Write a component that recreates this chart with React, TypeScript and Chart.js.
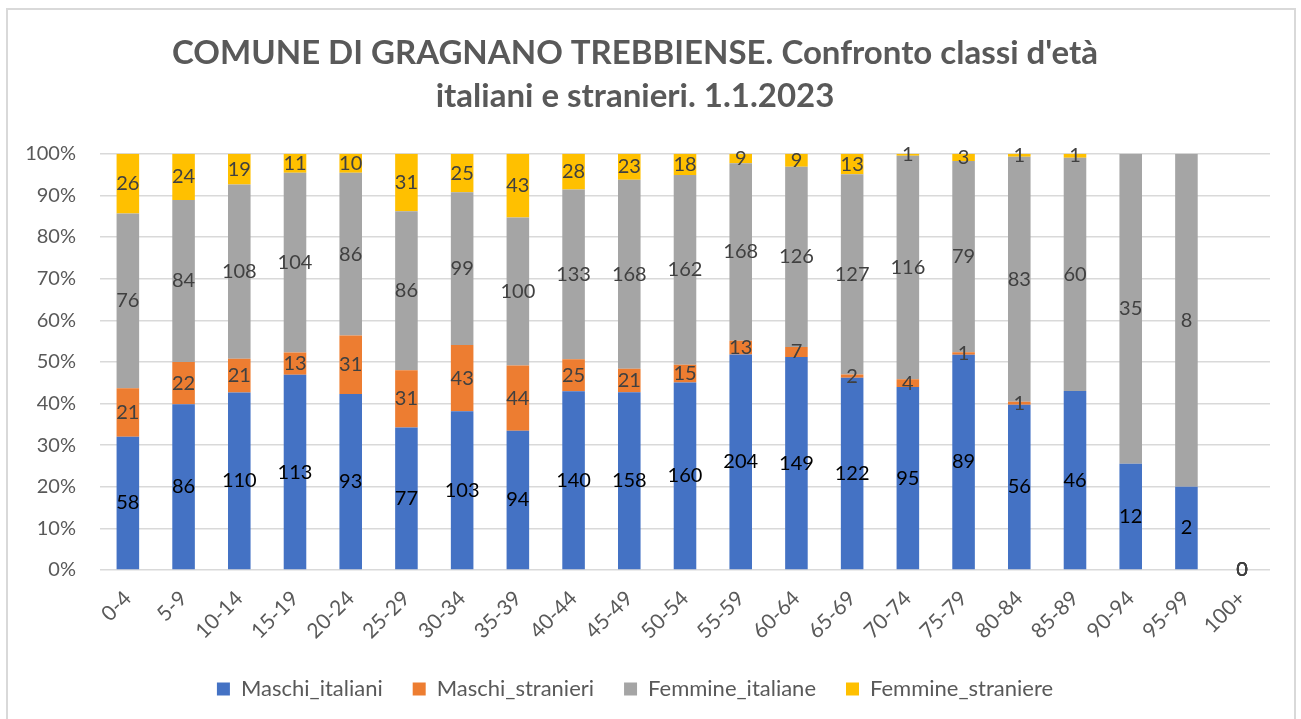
import React, { useEffect, useRef } from 'react';
import { Chart, registerables } from 'chart.js';

Chart.register(...registerables);

const categories = ['0-4', '5-9', '10-14', '15-19', '20-24', '25-29', '30-34', '35-39', '40-44', '45-49', '50-54', '55-59', '60-64', '65-69', '70-74', '75-79', '80-84', '85-89', '90-94', '95-99', '100+'];
const maschiItaliani = [58, 86, 110, 113, 93, 77, 103, 94, 140, 158, 160, 204, 149, 122, 95, 89, 56, 46, 12, 2, 0];
const maschiStranieri = [21, 22, 21, 13, 31, 31, 43, 44, 25, 21, 15, 13, 7, 2, 4, 1, 1, 0, 0, 0, 0];
const femmineItaliane = [76, 84, 108, 104, 86, 86, 99, 100, 133, 168, 162, 168, 126, 127, 116, 79, 83, 60, 35, 8, 0];
const femmineStraniere = [26, 24, 19, 11, 10, 31, 25, 43, 28, 23, 18, 9, 9, 13, 1, 3, 1, 1, 0, 0, 0];
const seriesNames = ['Maschi_italiani', 'Maschi_stranieri', 'Femmine_italiane', 'Femmine_straniere'];
const seriesColors = ['#4472C4', '#ED7D31', '#A5A5A5', '#FFC000'];
const labelColors = ['#000000', '#404040', '#404040', '#404040'];
const yTicks = [0, 10, 20, 30, 40, 50, 60, 70, 80, 90, 100];
const titleLines = ["COMUNE DI GRAGNANO TREBBIENSE. Confronto classi d'età", 'italiani e stranieri. 1.1.2023'];

const rawSeries = [maschiItaliani, maschiStranieri, femmineItaliane, femmineStraniere];
const totals = categories.map((_, i) => rawSeries.reduce((s, arr) => s + arr[i], 0));
const percentSeries = rawSeries.map((arr) => arr.map((v, i) => (totals[i] > 0 ? (v / totals[i]) * 100 : 0)));

const FONT = 'Lato, "Open Sans", sans-serif';

const labelPlugin = {
  id: 'segmentLabels',
  afterDatasetsDraw(chart: any) {
    const ctx = chart.ctx;
    ctx.save();
    ctx.font = `20px ${FONT}`;
    ctx.textAlign = 'center';
    ctx.textBaseline = 'middle';
    chart.data.datasets.forEach((_: any, di: number) => {
      const meta = chart.getDatasetMeta(di);
      meta.data.forEach((bar: any, i: number) => {
        const v = rawSeries[di][i];
        if (v === 0 && totals[i] !== 0) return;
        const p = bar.getProps(['x', 'y', 'base'], true);
        ctx.fillStyle = labelColors[di];
        ctx.fillText(String(v), p.x, (p.y + p.base) / 2);
      });
    });
    ctx.restore();
  },
};

export default function App() {
  const canvasRef = useRef<HTMLCanvasElement | null>(null);

  useEffect(() => {
    if (!canvasRef.current) return;
    const chart = new Chart(canvasRef.current, {
      type: 'bar',
      data: {
        labels: categories,
        datasets: seriesNames.map((name, di) => ({
          label: name,
          data: percentSeries[di],
          backgroundColor: seriesColors[di],
          borderWidth: 0,
          barPercentage: 0.405,
          categoryPercentage: 1,
        })),
      },
      options: {
        animation: false,
        responsive: true,
        maintainAspectRatio: false,
        layout: { padding: { left: 0, right: 31, top: 32, bottom: 9 } },
        plugins: {
          title: {
            display: true,
            text: titleLines,
            color: '#595959',
            font: { family: FONT, size: 33, weight: 'bold', lineHeight: 1.3 },
            padding: { top: 0, bottom: 36 },
          },
          legend: {
            position: 'bottom',
            labels: {
              boxWidth: 13,
              boxHeight: 13,
              color: '#595959',
              font: { family: FONT, size: 22 },
              padding: 30,
            },
          },
          tooltip: { enabled: false },
        },
        scales: {
          x: {
            stacked: true,
            grid: { display: false },
            border: { display: false },
            ticks: {
              color: '#595959',
              font: { family: FONT, size: 21 },
              maxRotation: 45,
              minRotation: 45,
              padding: 8,
            },
            afterFit(scale: any) {
              scale.height = 78;
            },
          },
          y: {
            stacked: true,
            min: 0,
            max: 100,
            afterBuildTicks(scale: any) {
              scale.ticks = yTicks.map((v) => ({ value: v }));
            },
            ticks: {
              color: '#595959',
              font: { family: FONT, size: 20 },
              padding: 24,
              callback: (v: any) => `${v}%`,
            },
            grid: { color: '#d9d9d9', lineWidth: 1.5, drawTicks: false },
            border: { display: false },
            afterFit(scale: any) {
              scale.width = 100;
            },
          },
        },
      },
      plugins: [labelPlugin],
    });
    return () => chart.destroy();
  }, []);

  return (
    <div style={{ position: 'fixed', left: 0, top: 0, width: 1301, height: 719, background: '#ffffff', overflow: 'hidden' }}>
      <div
        style={{
          position: 'absolute',
          left: 6,
          top: 8,
          width: 1290,
          height: 760,
          border: '2px solid #d9d9d9',
          boxSizing: 'border-box',
        }}
      />
      <canvas ref={canvasRef} style={{ position: 'absolute', left: 0, top: 0, width: 1301, height: 719 }} />
    </div>
  );
}
